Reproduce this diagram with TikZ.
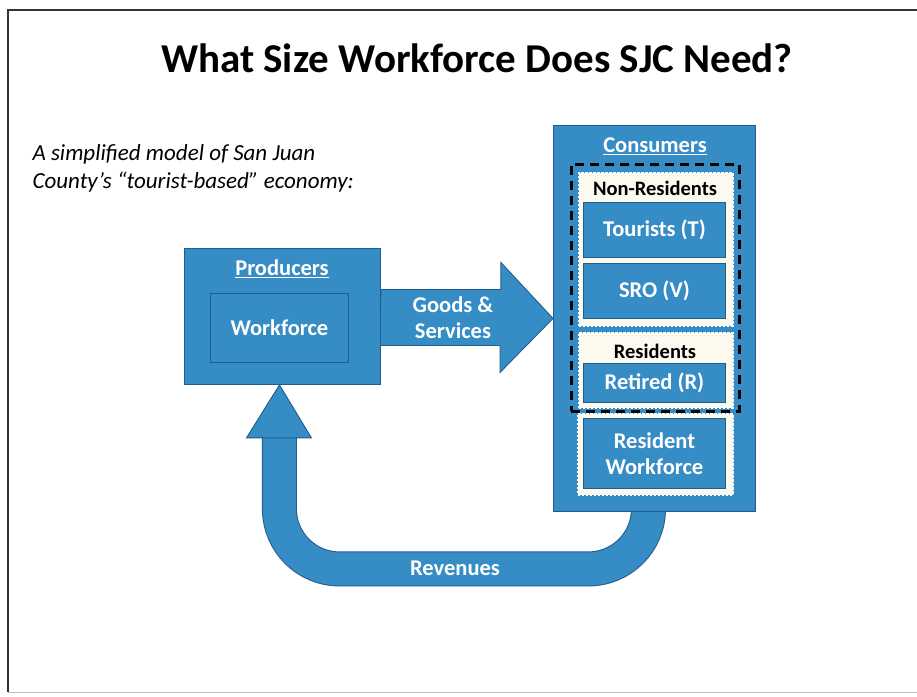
\documentclass[tikz,border=0pt]{standalone}
\usepackage{fontspec}
\setmainfont{Carlito}
\usetikzlibrary{positioning,backgrounds}
\definecolor{slideblue}{RGB}{54,141,198}
\definecolor{slideedge}{RGB}{32,92,140}
\definecolor{panelcream}{RGB}{252,249,238}
\tikzset{
  bluebox/.style={draw=slideedge, fill=slideblue, line width=0.9pt, inner sep=0pt, anchor=north west},
  panel/.style={draw=white, fill=panelcream, dash pattern=on 2.5pt off 1.5pt, line width=1.6pt, inner sep=0pt, anchor=north west},
  boxlabel/.style={text=white, align=center, font=\bfseries\fontsize{22.5}{26}\selectfont},
  panellabel/.style={text=black, font=\bfseries\fontsize{20.5}{22}\selectfont},
  blockarrow/.style={draw=slideedge, fill=slideblue, line width=0.9pt, line join=miter},
}

\begin{document}
\begin{tikzpicture}[x=1pt,y=-1pt]
  \useasboundingbox (0,0) rectangle (917,696);
  \draw[line width=1.6pt, black!80] (917,10) -- (8,10) -- (8,692);
  \draw[line width=0.8pt, black!25] (8,692) -- (917,692);

  \node (title) at (477,58) {\fontsize{41}{46}\selectfont\bfseries What Size Workforce Does SJC Need?};
  \node [anchor=north west, align=left, font=\itshape\fontsize{23}{28}\selectfont] (intro) at (29,141)
    {A simplified model of San Juan\\County’s “tourist-based” economy:};

  \node [bluebox, minimum width=196, minimum height=136] (producers) at (184,248) {};
  \node [boxlabel] (producerslabel) at (282,269) {\underline{Producers}};
  \node [bluebox, boxlabel, minimum width=138, minimum height=69] (workforce) at (210,293) {Workforce};

  \node [bluebox, minimum width=202, minimum height=386] (consumers) at (553,125) {};
  \node [boxlabel] (consumerslabel) at (655,146) {\underline{Consumers}};
  \node [draw, anchor=north west, dash pattern=on 9pt off 6pt, line width=2.8pt,
    minimum width=168, minimum height=247] (visitors) at (570,163) {};
  \node [panel, minimum width=154, minimum height=153] (nonres) at (578,172) {};
  \node [panellabel] (nonreslabel) at (655,188) {Non-Residents};
  \node [bluebox, boxlabel, minimum width=142, minimum height=55] (tourists) at (583,202) {Tourists (T)};
  \node [bluebox, boxlabel, minimum width=142, minimum height=55] (sro) at (583,263) {SRO (V)};
  \node [panel, minimum width=154, minimum height=75] (res) at (578,332) {};
  \node [panellabel] (reslabel) at (655,351) {Residents};
  \node [bluebox, boxlabel, minimum width=142, minimum height=39] (retired) at (583,363) {Retired (R)};
  \node [panel, minimum width=155, minimum height=81] (reswork) at (577,413) {};
  \node [bluebox, boxlabel, minimum width=142, minimum height=70] (resworkbox) at (583,418) {Resident\\Workforce};

  \coordinate (revtip) at ([xshift=-3pt]producers.south);
  \begin{scope}[on background layer]
    \draw[blockarrow] (producers.east) ++(0,-27) -- ++(120,0) -- ++(0,-27) -- (consumers.west)
      -- ++(-53,54) -- ++(0,-27) -- ++(-120,0) -- cycle;
    \draw[slideedge, line width=35pt, rounded corners=60pt]
      ([xshift=-6pt,yshift=6pt]consumers.south) -- ++(0,63) -| ([yshift=-53pt]revtip);
    \draw[slideblue, line width=33pt, rounded corners=60pt]
      ([xshift=-6pt,yshift=6pt]consumers.south) -- ++(0,63) -| ([yshift=-52pt]revtip);
  \end{scope}
  \draw[blockarrow] (revtip) -- ++(32,53) -- ++(-65,0) -- cycle;

  \node [boxlabel] (goodslabel) at (453,318) {Goods \&\\Services};
  \node [boxlabel] (revlabel) at (455,568) {Revenues};
\end{tikzpicture}
\end{document}
